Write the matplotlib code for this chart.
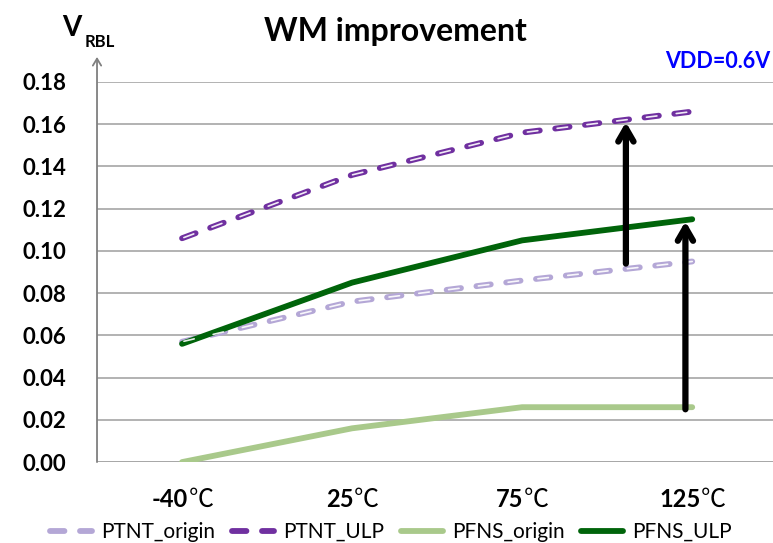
import matplotlib
matplotlib.use("Agg")
import matplotlib.pyplot as plt

categories = ["-40℃", "25℃", "75℃", "125℃"]
ptnt_origin = [0.057, 0.076, 0.086, 0.095]
ptnt_ulp = [0.106, 0.136, 0.156, 0.166]
pfns_origin = [0.000, 0.016, 0.026, 0.026]
pfns_ulp = [0.056, 0.085, 0.105, 0.115]
y_ticks = [0.00, 0.02, 0.04, 0.06, 0.08, 0.10, 0.12, 0.14, 0.16, 0.18]

FONT = ["Lato", "Noto Sans CJK SC", "DejaVu Sans"]
plt.rcParams["font.family"] = FONT
plt.rcParams["lines.scale_dashes"] = False

DPI = 100
fig = plt.figure(figsize=(7.73, 5.43), dpi=DPI)
ax = fig.add_axes([0.1255, 0.149, 0.88, 0.70])

x = list(range(len(categories)))
GRID = "#a6a6a6"
for yv in y_ticks:
    ax.axhline(yv, color=GRID, lw=1.2, zorder=0)

DASH_ON, DASH_OFF = 10.4, 11.2
PERIOD = DASH_ON + DASH_OFF


def dashed(values, color, label):
    ax.plot(x, values, color=color, lw=4.2, linestyle=(0, (DASH_ON, DASH_OFF)),
            dash_capstyle="round", label=label, zorder=3)
    # thin light streak inside each dash
    ax.plot(x, values, color="white", lw=1.2, alpha=0.9,
            linestyle=(PERIOD - 1.4, (7.6, PERIOD - 7.6)),
            dash_capstyle="round", zorder=4)


dashed(ptnt_origin, "#b4a7d6", "PTNT_origin")
dashed(ptnt_ulp, "#7030a0", "PTNT_ULP")
ax.plot(x, pfns_origin, color="#a9c98b", lw=4.2, solid_capstyle="round",
        label="PFNS_origin", zorder=3)
ax.plot(x, pfns_ulp, color="#00640a", lw=4.2, solid_capstyle="round",
        label="PFNS_ULP", zorder=3)

# improvement arrows
arrow_kw = dict(arrowstyle="->,head_length=0.95,head_width=0.55", color="black",
                lw=4.5, shrinkA=0, shrinkB=0)
xa1 = 2.61
ax.annotate("", xy=(xa1, 0.161), xytext=(xa1, 0.094), arrowprops=arrow_kw, zorder=6)
xa2 = 2.96
ax.annotate("", xy=(xa2, 0.114), xytext=(xa2, 0.025), arrowprops=arrow_kw, zorder=6)

ax.set_xlim(-0.5, 3.5)
ax.set_ylim(0, 0.18)
ax.set_yticks(y_ticks)
ax.set_yticklabels([f"{v:.2f}" for v in y_ticks], fontsize=16, fontweight="bold")
ax.set_xticks(x)
ax.set_xticklabels([])
ax.tick_params(axis="both", length=0)
ax.tick_params(axis="y", pad=22)
for s in ["top", "right", "left", "bottom"]:
    ax.spines[s].set_visible(False)

# y axis with arrow head
ax.annotate("", xy=(0, 1.066), xytext=(0, 0), xycoords="axes fraction",
            arrowprops=dict(arrowstyle="->,head_length=0.5,head_width=0.3",
                            color="#808080", lw=1.3, shrinkA=0, shrinkB=0),
            annotation_clip=False)
ax.axhline(0, color=GRID, lw=1.2, zorder=1)

# category labels: bold number followed by a light ℃ sign
fig.canvas.draw()
renderer = fig.canvas.get_renderer()
for xi, lab in zip(x, categories):
    num, unit = lab[:-1], lab[-1]
    t_num = ax.annotate(num, xy=(xi, 0), xycoords=("data", "axes fraction"),
                        textcoords="offset points", xytext=(0, -32.4),
                        ha="right", va="baseline", fontsize=17, fontweight="bold",
                        annotation_clip=False)
    t_unit = ax.annotate(unit, xy=(xi, 0), xycoords=("data", "axes fraction"),
                         textcoords="offset points", xytext=(0, -32.4),
                         ha="left", va="baseline", fontsize=18,
                         family=["Noto Sans CJK SC"], fontweight="light",
                         annotation_clip=False)
    w1 = t_num.get_window_extent(renderer).width
    w2 = t_unit.get_window_extent(renderer).width
    shift = (w1 - w2) / 2 * 72 / DPI
    t_num.set_position((shift, -32.4))
    t_unit.set_position((shift + 0.5, -32.4))

fig.text(0.081, 0.934, "V", fontsize=20, fontweight="bold", ha="left", va="baseline")
fig.text(0.109, 0.913, "RBL", fontsize=12, fontweight="bold", ha="left", va="baseline")
fig.text(0.512, 0.925, "WM improvement", fontsize=23, fontweight="bold",
         ha="center", va="baseline")
fig.text(0.997, 0.875, "VDD=0.6V", fontsize=15.5, fontweight="bold", color="#0000ff",
         ha="right", va="baseline")

handles, labels = ax.get_legend_handles_labels()
fig.legend(handles, labels, loc="center", bbox_to_anchor=(0.506, 0.02), ncol=4,
           frameon=False, fontsize=15, handlelength=2.0, columnspacing=0.8,
           handletextpad=0.45, borderaxespad=0, borderpad=0)

fig.savefig("out.png", dpi=DPI)
